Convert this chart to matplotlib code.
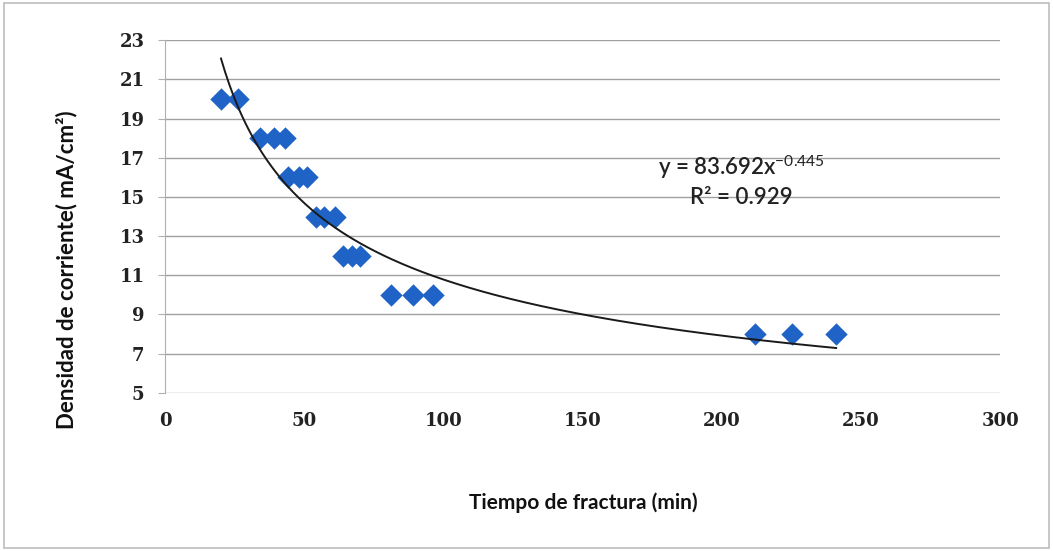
import numpy as np
import matplotlib.pyplot as plt
from matplotlib.patches import Rectangle

# data
tiempo = [20, 26, 34, 39, 43, 44, 48, 51, 54, 57, 61, 64, 67, 70, 81, 89, 96, 212, 225, 241]
densidad = [20, 20, 18, 18, 18, 16, 16, 16, 14, 14, 14, 12, 12, 12, 10, 10, 10, 8, 8, 8]
coef_a = 83.692
coef_b = -0.445
r2 = 0.929

plt.rcParams['mathtext.fontset'] = 'custom'
plt.rcParams['mathtext.rm'] = 'Lato'

fig = plt.figure(figsize=(10.53, 5.51), dpi=100)
fig.patches.append(Rectangle((0.004, 0.006), 0.992, 0.988, transform=fig.transFigure,
                             fill=False, edgecolor='#bdbdbd', linewidth=1.2))
ax = fig.add_axes([0.157, 0.287, 0.793, 0.64])

ax.scatter(tiempo, densidad, marker='D', s=130, color='#1f63c6', zorder=3, linewidths=0)

# power trend line
xf = np.linspace(min(tiempo), max(tiempo), 300)
ax.plot(xf, coef_a * xf ** coef_b, color='#1a1a1a', linewidth=1.4, zorder=4)

ax.set_xlim(0, 300)
ax.set_ylim(5, 23)
ax.set_xticks(range(0, 301, 50))
ax.set_yticks(range(5, 24, 2))
ax.grid(axis='y', color='#a0a0a0', linewidth=1.0)
ax.set_axisbelow(True)
for s in ['top', 'right', 'bottom']:
    ax.spines[s].set_visible(False)
ax.spines['left'].set_color('#b0b0b0')
ax.tick_params(axis='y', length=5, color='#b0b0b0', pad=10)
ax.tick_params(axis='x', length=0, pad=14)
for lbl in ax.get_xticklabels() + ax.get_yticklabels():
    lbl.set_fontfamily('DejaVu Serif')
    lbl.set_fontweight('bold')
    lbl.set_fontsize(13)
    lbl.set_color('#222222')

ax.set_xlabel('Tiempo de fractura (min)', fontfamily='Lato', fontweight='bold',
              fontsize=15, labelpad=45, color='#111111')
ax.set_ylabel('Densidad de corriente( mA/cm²)', fontfamily='Lato', fontweight='bold',
              fontsize=16, labelpad=22, color='#111111')
ax.yaxis.set_label_coords(-0.105, 0.35)

ax.text(207, 16.55, 'y = %.3fx$^{\\mathrm{%.3f}}$' % (coef_a, coef_b), fontfamily='Lato',
        fontweight='semibold', fontsize=16, ha='center', va='center', color='#222222')
ax.text(207, 14.95, 'R² = %.3f' % r2, fontfamily='Lato',
        fontweight='semibold', fontsize=16, ha='center', va='center', color='#222222')

fig.savefig('out.png', dpi=100)
